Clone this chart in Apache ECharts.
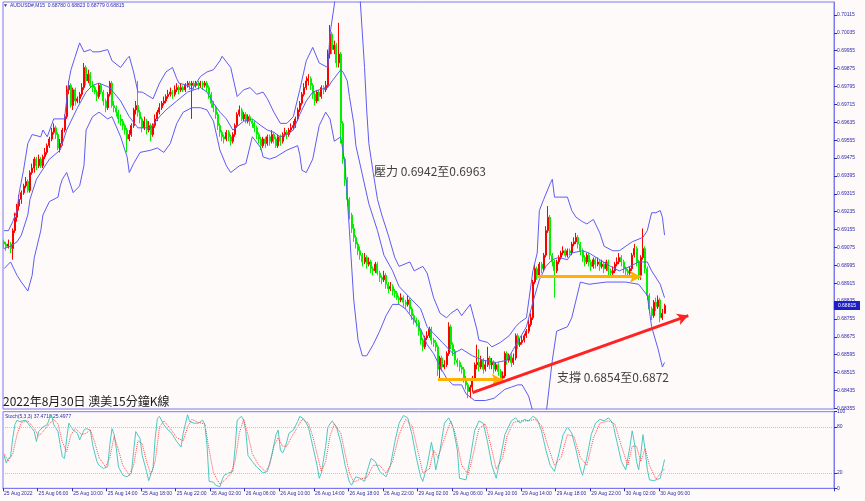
<!DOCTYPE html>
<html><head><meta charset="utf-8">
<script src="https://cdn.jsdelivr.net/npm/echarts@6/dist/echarts.min.js"></script>
<style>html,body{margin:0;padding:0;background:#fffafa}#c{width:865px;height:501px}</style>
</head><body><div id="c"></div><script>
// ---- data (AUDUSD M15, bar 0 = 25 Aug 2022 02:00) ----
const opens=[.6910,.6909,.6908,.6909,.6907,.6915,.6921,.6926,.6929,.6932,
.6935,.6937,.6933,.6941,.6943,.6947,.6944,.6947,.6944,.6948,
.6950,.6953,.6956,.6959,.6961,.6958,.6952,.6954,.6960,.6966,
.6978,.6980,.6971,.6978,.6973,.6974,.6976,.6979,.6988,.6982,
.6985,.6980,.6979,.6977,.6975,.6980,.6977,.6973,.6970,.6976,
.6981,.6971,.6970,.6968,.6965,.6964,.6962,.6960,.6956,.6958,
.6962,.6969,.6971,.6968,.6965,.6961,.6964,.6960,.6962,.6958,
.6962,.6965,.6968,.6970,.6972,.6973,.6975,.6976,.6977,.6976,
.6978,.6979,.6978,.6979,.6978,.6980,.6981,.6980,.6981,.6980,
.6981,.6980,.6981,.6980,.6981,.6979,.6976,.6972,.6970,.6967,
.6962,.6959,.6957,.6956,.6959,.6957,.6955,.6958,.6962,.6967,
.6969,.6965,.6967,.6964,.6966,.6964,.6963,.6961,.6958,.6956,
.6953,.6956,.6954,.6957,.6955,.6958,.6956,.6953,.6957,.6955,
.6958,.6959,.6958,.6960,.6961,.6962,.6965,.6969,.6972,.6976,
.6979,.6982,.6983,.6980,.6976,.6973,.6977,.6975,.6979,.6978,
.6980,.6994,.7003,.6996,.6998,.6990,.6994,.6963,.6947,.6938,
.6929,.6922,.6916,.6912,.6909,.6906,.6904,.6901,.6903,.6900,
.6901,.6898,.6897,.6900,.6896,.6894,.6893,.6895,.6891,.6889,
.6890,.6888,.6887,.6885,.6884,.6885,.6883,.6882,.6884,.6880,
.6877,.6875,.6874,.6870,.6866,.6863,.6867,.6868,.6871,.6866,
.6865,.6863,.6853,.6858,.6854,.6855,.6860,.6872,.6864,.6861,
.6857,.6856,.6854,.6853,.6849,.6846,.6843,.6845,.6849,.6855,
.6856,.6854,.6857,.6853,.6855,.6858,.6855,.6856,.6853,.6855,
.6852,.6849,.6850,.6860,.6857,.6859,.6856,.6858,.6868,.6864,
.6865,.6866,.6868,.6870,.6873,.6876,.6892,.6898,.6895,.6900,
.6898,.6904,.6915,.6921,.6904,.6901,.6897,.6901,.6903,.6905,
.6906,.6904,.6906,.6905,.6909,.6910,.6912,.6909,.6906,.6903,
.6901,.6904,.6901,.6899,.6902,.6900,.6901,.6899,.6900,.6898,
.6901,.6897,.6896,.6897,.6900,.6901,.6903,.6901,.6898,.6897,
.6896,.6898,.6904,.6907,.6901,.6895,.6903,.6907,.6898,.6886,
.6880,.6877,.6883,.6881,.6884,.6876,.68780];
const closes=[.6909,.6908,.6909,.6907,.6915,.6921,.6926,.6929,.6932,.6935,
.6937,.6933,.6941,.6943,.6947,.6944,.6947,.6944,.6948,.6950,
.6953,.6956,.6959,.6961,.6958,.6952,.6954,.6960,.6966,.6978,
.6980,.6971,.6978,.6973,.6974,.6976,.6979,.6988,.6982,.6985,
.6980,.6979,.6977,.6975,.6980,.6977,.6973,.6970,.6976,.6981,
.6971,.6970,.6968,.6965,.6964,.6962,.6960,.6956,.6958,.6962,
.6969,.6971,.6968,.6965,.6961,.6964,.6960,.6962,.6958,.6962,
.6965,.6968,.6970,.6972,.6973,.6975,.6976,.6977,.6976,.6978,
.6979,.6978,.6979,.6978,.6980,.6981,.6980,.6981,.6980,.6981,
.6980,.6981,.6980,.6981,.6979,.6976,.6972,.6970,.6967,.6962,
.6959,.6957,.6956,.6959,.6957,.6955,.6958,.6962,.6967,.6969,
.6965,.6967,.6964,.6966,.6964,.6963,.6961,.6958,.6956,.6953,
.6956,.6954,.6957,.6955,.6958,.6956,.6953,.6957,.6955,.6958,
.6959,.6958,.6960,.6961,.6962,.6965,.6969,.6972,.6976,.6979,
.6982,.6983,.6980,.6976,.6973,.6977,.6975,.6979,.6978,.6980,
.6994,.7003,.6996,.6998,.6990,.6994,.6963,.6947,.6938,.6929,
.6922,.6916,.6912,.6909,.6906,.6904,.6901,.6903,.6900,.6901,
.6898,.6897,.6900,.6896,.6894,.6893,.6895,.6891,.6889,.6890,
.6888,.6887,.6885,.6884,.6885,.6883,.6882,.6884,.6880,.6877,
.6875,.6874,.6870,.6866,.6863,.6867,.6868,.6871,.6866,.6865,
.6863,.6853,.6858,.6854,.6855,.6860,.6872,.6864,.6861,.6857,
.6856,.6854,.6853,.6849,.6846,.6843,.6845,.6849,.6855,.6856,
.6854,.6857,.6853,.6855,.6858,.6855,.6856,.6853,.6855,.6852,
.6849,.6850,.6860,.6857,.6859,.6856,.6858,.6868,.6864,.6865,
.6866,.6868,.6870,.6873,.6876,.6892,.6898,.6895,.6900,.6898,
.6904,.6915,.6921,.6904,.6901,.6897,.6901,.6903,.6905,.6906,
.6904,.6906,.6905,.6909,.6910,.6912,.6909,.6906,.6903,.6901,
.6904,.6901,.6899,.6902,.6900,.6901,.6899,.6900,.6898,.6901,
.6897,.6896,.6897,.6900,.6901,.6903,.6901,.6898,.6897,.6896,
.6898,.6904,.6907,.6901,.6895,.6903,.6907,.6898,.6886,.6880,
.6877,.6883,.6881,.6884,.6876,.6878,.68815];
const highs=[.6911,.6910,.6911,.6910,.6916,.6923,.6927,.6931,.6933,.6936,
.6939,.6938,.6942,.6945,.6948,.6948,.6949,.6948,.6949,.6952,
.6954,.6957,.6961,.6963,.6962,.6959,.6956,.6961,.6967,.6980,
.6982,.6981,.6979,.6979,.6975,.6977,.6981,.6990,.6989,.6987,
.6986,.6982,.6980,.6978,.6981,.6981,.6978,.6974,.6977,.6982,
.6982,.6973,.6971,.6969,.6967,.6965,.6963,.6961,.6960,.6963,
.6970,.6973,.6982,.6969,.6966,.6966,.6965,.6964,.6963,.6963,
.6967,.6969,.6972,.6973,.6975,.6976,.6978,.6979,.6978,.6980,
.6981,.6980,.6981,.6980,.6981,.6982,.6982,.6982,.6982,.6982,
.6982,.6982,.6982,.6982,.6982,.6980,.6977,.6973,.6971,.6968,
.6963,.6960,.6958,.6960,.6960,.6958,.6959,.6963,.6968,.6971,
.6970,.6968,.6968,.6967,.6967,.6965,.6964,.6962,.6959,.6957,
.6957,.6957,.6958,.6958,.6960,.6959,.6957,.6958,.6958,.6959,
.6961,.6960,.6961,.6963,.6964,.6966,.6970,.6973,.6977,.6981,
.6984,.6985,.6984,.6981,.6977,.6978,.6978,.6980,.6980,.6982,
.6996,.7007,.7004,.7000,.6999,.7008,.6995,.6964,.6948,.6939,
.6930,.6923,.6918,.6913,.6910,.6908,.6905,.6905,.6904,.6903,
.6902,.6899,.6901,.6901,.6897,.6895,.6897,.6896,.6892,.6892,
.6891,.6889,.6888,.6886,.6887,.6886,.6884,.6886,.6885,.6881,
.6878,.6876,.6875,.6871,.6867,.6868,.6870,.6872,.6872,.6867,
.6866,.6864,.6859,.6859,.6857,.6861,.6874,.6873,.6865,.6862,
.6858,.6857,.6855,.6854,.6850,.6847,.6846,.6850,.6856,.6864,
.6862,.6859,.6858,.6857,.6863,.6859,.6858,.6857,.6856,.6856,
.6853,.6852,.6861,.6861,.6860,.6860,.6860,.6869,.6869,.6867,
.6868,.6869,.6871,.6875,.6878,.6893,.6900,.6899,.6901,.6901,
.6905,.6917,.6926,.6922,.6905,.6902,.6902,.6904,.6906,.6908,
.6907,.6907,.6907,.6910,.6912,.6914,.6913,.6910,.6907,.6904,
.6905,.6905,.6902,.6903,.6903,.6903,.6902,.6902,.6901,.6902,
.6902,.6898,.6899,.6901,.6903,.6905,.6904,.6902,.6899,.6898,
.6899,.6905,.6909,.6908,.6902,.6904,.6916,.6908,.6899,.6887,
.6881,.6884,.6885,.6886,.6885,.6880,.68823];
const lows=[.6907,.6906,.6907,.6905,.6902,.6914,.6919,.6924,.6927,.6931,
.6934,.6932,.6932,.6940,.6941,.6942,.6943,.6943,.6943,.6947,
.6949,.6952,.6955,.6958,.6956,.6951,.6950,.6953,.6959,.6965,
.6976,.6970,.6969,.6971,.6972,.6972,.6975,.6978,.6980,.6981,
.6979,.6977,.6976,.6973,.6974,.6976,.6971,.6968,.6969,.6975,
.6970,.6968,.6966,.6963,.6962,.6960,.6958,.6950,.6955,.6957,
.6961,.6967,.6966,.6963,.6959,.6960,.6958,.6959,.6955,.6957,
.6961,.6964,.6967,.6969,.6971,.6972,.6974,.6975,.6974,.6975,
.6977,.6976,.6977,.6977,.6977,.6979,.6978,.6965,.6978,.6979,
.6978,.6979,.6978,.6979,.6977,.6974,.6970,.6968,.6965,.6960,
.6957,.6955,.6954,.6955,.6955,.6953,.6954,.6957,.6961,.6966,
.6964,.6964,.6963,.6963,.6962,.6961,.6959,.6956,.6954,.6951,
.6952,.6952,.6953,.6953,.6954,.6954,.6952,.6952,.6953,.6954,
.6957,.6956,.6957,.6959,.6960,.6961,.6964,.6968,.6971,.6975,
.6978,.6980,.6978,.6974,.6971,.6972,.6973,.6974,.6976,.6977,
.6979,.6992,.6994,.6994,.6988,.6988,.6954,.6945,.6935,.6926,
.6920,.6914,.6910,.6907,.6904,.6902,.6899,.6900,.6898,.6899,
.6896,.6895,.6896,.6895,.6892,.6891,.6892,.6889,.6887,.6888,
.6886,.6885,.6884,.6882,.6883,.6881,.6880,.6881,.6878,.6875,
.6873,.6872,.6868,.6864,.6861,.6862,.6866,.6867,.6864,.6863,
.6861,.6850,.6848,.6852,.6853,.6854,.6859,.6862,.6859,.6855,
.6854,.6852,.6851,.6847,.6844,.6840,.6840,.6843,.6848,.6853,
.6852,.6853,.6851,.6852,.6854,.6853,.6853,.6851,.6852,.6850,
.6847,.6847,.6849,.6855,.6856,.6854,.6855,.6857,.6862,.6863,
.6864,.6865,.6867,.6869,.6872,.6875,.6891,.6893,.6894,.6896,
.6897,.6903,.6914,.6902,.6899,.6885,.6896,.6900,.6902,.6904,
.6903,.6903,.6904,.6904,.6908,.6909,.6907,.6904,.6901,.6899,
.6900,.6899,.6897,.6898,.6898,.6899,.6897,.6898,.6896,.6897,
.6895,.6894,.6895,.6896,.6899,.6900,.6899,.6896,.6895,.6894,
.6895,.6897,.6903,.6899,.6893,.6893,.6902,.6896,.6884,.6878,
.6875,.6876,.6879,.6880,.6874,.6875,.68779];
// Bollinger bands: [bar, price]
const upperBand=[[0,.6915],[2,.6915],[4,.6919],[6,.6924],[7,.6932],[9,.6942],[11,.6954],[13,.6958],[17,.6957],[18,.6960],[20,.6957],[23,.6965],[26,.6965],[28,.6965],[30,.6982],[31,.6987],[33,.6993],[35,.6999],[37,.6995],[40,.6996],[41,.6995],[44,.6995],[48,.6996],[50,.6991],[54,.6988],[57,.6992],[58,.6993],[60,.6986],[62,.6977],[64,.6977],[69,.6974],[72,.6981],[75,.6986],[78,.6988],[80,.6983],[81,.6981],[85,.6980],[87,.6978],[91,.6984],[94,.6986],[97,.6987],[100,.6991],[101,.6993],[105,.6988],[108,.6975],[111,.6978],[114,.6979],[117,.6976],[120,.6977],[122,.6974],[125,.6968],[128,.6963],[131,.6963],[134,.6966],[137,.6978],[140,.6991],[143,.6997],[146,.6990],[150,.6988],[151,.7003],[153,.7016],[154,.7027],[164,.7027],[165,.7018],[166,.7003],[167,.6988],[168,.6969],[169,.6954],[171,.6941],[173,.6929],[175,.6922],[178,.6913],[181,.6903],[183,.6899],[188,.6901],[190,.6897],[194,.6899],[196,.6896],[199,.6885],[202,.6878],[205,.6876],[207,.6878],[210,.6880],[212,.6877],[216,.6882],[219,.6871],[220,.6866],[224,.6865],[226,.6863],[230,.6865],[234,.6868],[237,.6872],[239,.6874],[242,.6876],[245,.6897],[247,.6905],[248,.6924],[250,.6929],[253,.6936],[254,.6938],[255,.6930],[257,.6930],[261,.6930],[263,.6924],[265,.6921],[268,.6919],[270,.6918],[273,.6920],[276,.6914],[278,.6908],[282,.6906],[285,.6906],[291,.6910],[296,.6912],[298,.6915],[300,.6923],[302,.6923],[304,.6924],[305,.6921],[306,.6913]];
const middleBand=[[0,.6907],[3,.6908],[6,.6910],[8,.6913],[11,.6922],[12,.6929],[15,.6938],[21,.6947],[26,.6951],[29,.6960],[34,.6970],[38,.6977],[41,.6980],[44,.6981],[49,.6979],[54,.6973],[58,.6966],[62,.6961],[68,.6961],[72,.6966],[75,.6969],[80,.6973],[85,.6977],[91,.6979],[94,.6977],[97,.6972],[100,.6968],[103,.6965],[106,.6960],[111,.6964],[115,.6965],[119,.6962],[122,.6960],[125,.6959],[128,.6957],[131,.6958],[134,.6960],[137,.6967],[140,.6973],[143,.6977],[146,.6978],[150,.6979],[152,.6982],[156,.6987],[157,.6986],[159,.6982],[160,.6975],[162,.6963],[163,.6953],[166,.6940],[169,.6927],[173,.6915],[176,.6904],[180,.6897],[183,.6890],[188,.6885],[193,.6880],[196,.6872],[199,.6869],[203,.6865],[208,.6860],[212,.6862],[217,.6859],[222,.6857],[228,.6856],[233,.6857],[236,.6862],[239,.6867],[242,.6872],[245,.6883],[248,.6893],[251,.6899],[254,.6902],[257,.6903],[261,.6902],[263,.6905],[268,.6906],[271,.6905],[276,.6902],[281,.6899],[285,.6897],[290,.6899],[294,.6901],[298,.6901],[300,.6897],[304,.6891],[306,.6885]];
const lowerBand=[[0,.6898],[3,.6901],[6,.6895],[8,.6892],[11,.6888],[13,.6895],[14,.6903],[17,.6915],[18,.6922],[21,.6928],[25,.6930],[26,.6935],[27,.6938],[29,.6941],[31,.6935],[32,.6932],[35,.6935],[37,.6944],[38,.6960],[41,.6966],[44,.6968],[48,.6965],[50,.6966],[54,.6957],[57,.6948],[58,.6941],[60,.6945],[63,.6950],[68,.6951],[71,.6952],[74,.6950],[77,.6954],[80,.6963],[83,.6968],[87,.6970],[91,.6970],[94,.6969],[97,.6964],[100,.6951],[103,.6944],[105,.6941],[109,.6944],[112,.6945],[115,.6957],[119,.6952],[120,.6948],[123,.6947],[126,.6948],[131,.6951],[136,.6953],[137,.6949],[138,.6942],[140,.6941],[143,.6947],[146,.6962],[149,.6968],[151,.6965],[153,.6955],[156,.6957],[158,.6944],[160,.6915],[162,.6884],[164,.6866],[166,.6859],[168,.6859],[171,.6864],[174,.6870],[177,.6877],[180,.6882],[183,.6882],[186,.6880],[189,.6876],[193,.6871],[196,.6864],[199,.6860],[202,.6854],[205,.6849],[208,.6846],[212,.6846],[214,.6842],[218,.6839],[223,.6839],[227,.6840],[232,.6844],[235,.6845],[238,.6846],[240,.6846],[243,.6841],[245,.6834],[248,.6830],[251,.6832],[254,.6857],[256,.6870],[261,.6872],[263,.6876],[267,.6892],[271,.6891],[279,.6892],[288,.6892],[294,.6891],[298,.6886],[300,.6872],[303,.6862],[305,.6854],[306,.6856]];
// Stochastic(5,3,3): [bar, value]
const stochK=[[0,43],[1,33],[2,39],[3,41],[4,65],[5,83],[6,89],[7,87],[10,89],[11,85],[13,78],[14,74],[15,61],[16,74],[18,80],[20,83],[21,91],[22,96],[23,83],[25,74],[26,57],[27,41],[28,39],[29,65],[30,85],[32,76],[33,74],[34,72],[35,63],[37,76],[38,78],[40,76],[41,57],[43,35],[44,30],[46,26],[48,28],[49,57],[50,78],[51,70],[52,52],[53,28],[55,17],[57,15],[59,20],[60,48],[61,74],[63,65],[64,43],[66,22],[67,10],[69,26],[70,65],[71,91],[72,94],[74,83],[76,76],[77,74],[78,70],[80,61],[82,54],[83,72],[85,96],[86,87],[88,85],[90,85],[92,89],[93,83],[94,57],[95,9],[97,8],[98,4],[100,2],[101,11],[102,17],[104,20],[106,22],[107,52],[108,89],[110,94],[111,89],[112,74],[113,43],[115,35],[117,28],[120,20],[122,22],[124,43],[126,70],[127,76],[128,50],[129,46],[130,52],[131,61],[132,72],[134,76],[136,87],[137,94],[139,90],[141,80],[143,55],[145,30],[146,13],[147,20],[149,55],[150,80],[152,88],[154,80],[156,60],[158,30],[160,8],[161,4],[162,10],[163,15],[165,13],[167,9],[168,20],[170,39],[172,35],[174,22],[177,15],[179,30],[181,60],[183,85],[185,95],[187,92],[189,70],[191,40],[193,15],[194,9],[196,30],[198,60],[199,45],[200,24],[202,50],[204,85],[206,92],[208,80],[210,50],[211,13],[214,11],[216,40],[218,75],[220,88],[222,85],[224,60],[226,30],[228,13],[230,40],[232,70],[235,88],[237,92],[239,85],[241,90],[243,88],[245,94],[247,90],[249,75],[251,50],[253,30],[255,22],[257,45],[259,70],[261,80],[263,72],[265,50],[267,25],[268,17],[270,40],[272,70],[274,85],[276,90],[278,88],[280,92],[282,85],[284,60],[286,35],[288,24],[290,55],[291,75],[292,60],[293,35],[294,24],[295,45],[296,70],[297,50],[298,25],[299,11],[301,10],[303,12],[304,13],[306,37.47]];
const stochD=[[0,45],[2,36],[4,45],[6,70],[8,86],[11,88],[14,78],[16,68],[18,74],[21,84],[23,90],[25,84],[27,60],[29,48],[31,70],[33,78],[36,70],[38,72],[40,76],[42,60],[44,40],[47,28],[49,40],[51,68],[53,50],[55,30],[58,17],[60,30],[62,62],[64,58],[66,35],[68,18],[70,35],[72,80],[74,88],[77,78],[80,66],[83,62],[85,80],[87,90],[90,86],[93,84],[95,50],[97,20],[100,5],[102,10],[105,19],[107,35],[109,72],[111,90],[113,70],[115,45],[118,30],[121,22],[123,30],[125,55],[127,66],[129,55],[131,55],[133,66],[136,80],[138,90],[141,85],[143,68],[145,45],[147,22],[149,35],[151,68],[153,84],[156,72],[158,45],[160,20],[162,8],[165,12],[168,14],[171,30],[174,30],[177,20],[180,35],[183,70],[186,90],[189,82],[192,45],[194,20],[197,25],[199,50],[201,40],[204,65],[207,88],[209,72],[212,30],[215,18],[217,40],[220,78],[223,84],[226,50],[228,25],[231,40],[233,68],[236,86],[239,88],[243,88],[246,90],[249,82],[252,55],[255,30],[258,40],[261,70],[264,68],[267,40],[270,30],[273,65],[276,85],[280,88],[283,84],[286,55],[289,30],[291,55],[293,55],[295,35],[297,52],[299,30],[302,12],[306,25.50]];
const priceTicks=[0.68355,0.68435,0.68515,0.68595,0.68675,0.68755,0.68835,0.68915,0.68995,0.69075,0.69155,0.69235,0.69315,0.69395,0.69475,0.69555,0.69635,0.69715,0.69795,0.69875,0.69955,0.70035,0.70115];
const stochTicks=[0,20,80,100];
const tickBars=[0,16,32,48,64,80,96,112,128,144,160,176,192,208,224,240,256,272,288,304];
const tickLabels=['25 Aug 2022','25 Aug 06:00','25 Aug 10:00','25 Aug 14:00','25 Aug 18:00','25 Aug 22:00','26 Aug 02:00','26 Aug 06:00','26 Aug 10:00','26 Aug 14:00','26 Aug 18:00','26 Aug 22:00','29 Aug 02:00','29 Aug 06:00','29 Aug 10:00','29 Aug 14:00','29 Aug 18:00','29 Aug 22:00','30 Aug 02:00','30 Aug 06:00'];
// annotations: [startBar, startPrice, endBar, endPrice]
const resistArrow=[247,0.68944,295,0.68944];
const lowArrow=[201,0.68483,231,0.68483];
const trendArrow=[217,0.68425,317,0.68770];
const lastPrice=0.68815;

// ---- chart ----
const SLOTS=385;
const slots=Array.from({length:SLOTS},(_,i)=>String(i));
const candles=opens.map((o,i)=>[o,closes[i],lows[i],highs[i]]);
const tickSet=new Set(tickBars);
const tickText={};tickBars.forEach((b,k)=>tickText[b]=tickLabels[k]);
const NAVY='#2b2ba8',FRAME='#7a7af2',BAND='#5c5cf2';
const small={fontSize:5,fontFamily:'Liberation Sans',color:NAVY};
function arrow(a,color){return [{coord:[a[0],a[1]],lineStyle:{color:color,width:3,type:'solid'}},{coord:[a[2],a[3]]}];}
const chart=echarts.init(document.getElementById('c'));
chart.setOption({
  animation:false,
  backgroundColor:'#fffafa',
  grid:[
    {left:3,top:2,width:831,height:407,show:true,borderColor:FRAME,borderWidth:1},
    {left:3,top:411.7,width:831,height:76.6,show:true,borderColor:FRAME,borderWidth:1}
  ],
  xAxis:[
    {type:'category',gridIndex:0,data:slots,boundaryGap:true,axisLine:{show:false},axisTick:{show:false},axisLabel:{show:false},splitLine:{show:false}},
    {type:'category',gridIndex:1,data:slots,boundaryGap:true,axisLine:{show:true,lineStyle:{color:FRAME}},
     axisTick:{show:true,interval:(i)=>tickSet.has(i),length:3,lineStyle:{color:NAVY}},
     axisLabel:Object.assign({show:true,interval:(i)=>tickSet.has(i),formatter:(v,i)=>tickText[i]||'',align:'left',margin:3},small),
     splitLine:{show:false}}
  ],
  yAxis:[
    {type:'value',gridIndex:0,position:'right',min:0.68352,max:0.70173,
     axisLine:{show:true,lineStyle:{color:FRAME}},
     axisTick:{show:true,length:3,customValues:priceTicks,lineStyle:{color:NAVY}},
     axisLabel:Object.assign({customValues:priceTicks,formatter:v=>v.toFixed(5),margin:3},small),
     splitLine:{show:false}},
    {type:'value',gridIndex:1,position:'right',min:0,max:100,
     axisLine:{show:true,lineStyle:{color:FRAME}},
     axisTick:{show:true,length:3,customValues:stochTicks,lineStyle:{color:NAVY}},
     axisLabel:Object.assign({customValues:stochTicks,margin:3},small),
     splitLine:{show:false}}
  ],
  series:[
    {type:'candlestick',xAxisIndex:0,yAxisIndex:0,data:candles,barWidth:1.5,
     itemStyle:{color:'#ff0000',color0:'#00f000',borderColor:'#ff0000',borderColor0:'#00f000',borderWidth:1}},
    {type:'line',xAxisIndex:0,yAxisIndex:0,data:upperBand,symbol:'none',lineStyle:{color:BAND,width:1},
     markLine:{silent:true,animation:false,symbol:['none','arrow'],symbolSize:[9,11],label:{show:false},
       data:[arrow(lowArrow,'#ffb000'),arrow(resistArrow,'#ffb000'),arrow(trendArrow,'#ff2222')]}},
    {type:'line',xAxisIndex:0,yAxisIndex:0,data:middleBand,symbol:'none',lineStyle:{color:BAND,width:1},
     markLine:{silent:true,animation:false,symbol:'none',
       lineStyle:{color:'rgba(0,0,0,0)',width:1,type:'solid'},
       label:{show:true,position:'end',distance:1,formatter:'0.68815',color:'#ffffff',backgroundColor:'#1e1ec8',fontSize:5,fontFamily:'Liberation Sans',padding:[2,4]},
       data:[[{coord:[SLOTS-2,lastPrice]},{coord:[SLOTS-1,lastPrice]}]]}},
    {type:'line',xAxisIndex:0,yAxisIndex:0,data:lowerBand,symbol:'none',lineStyle:{color:BAND,width:1}},
    {type:'line',xAxisIndex:1,yAxisIndex:1,data:stochK,symbol:'none',lineStyle:{color:'#4cc8c0',width:1},
     markLine:{silent:true,symbol:'none',label:{show:false},lineStyle:{color:'#c4c4c4',type:'dotted',width:1},data:[{yAxis:80},{yAxis:20}]}},
    {type:'line',xAxisIndex:1,yAxisIndex:1,data:stochD,symbol:'none',lineStyle:{color:'#ff4a4a',width:1,type:'dotted'}}
  ],
  graphic:[
    {type:'text',left:3,top:3.5,style:{text:'▼',fontSize:5,fill:NAVY}},
    {type:'text',left:10,top:3.5,style:{text:'AUDUSD#,M15  0.68780 0.68823 0.68779 0.68815',fontSize:5,fontFamily:'Liberation Sans',fill:NAVY}},
    {type:'text',left:374,top:165,style:{text:'壓力 0.6942至0.6963',fontSize:12,fontFamily:'Noto Sans CJK TC',fill:'#404040'}},
    {type:'text',left:557,top:371,style:{text:'支撐 0.6854至0.6872',fontSize:12,fontFamily:'Noto Sans CJK TC',fill:'#404040'}},
    {type:'text',left:3,top:395,style:{text:'2022年8月30日 澳美15分鐘K線',fontSize:12,fontFamily:'Noto Sans CJK TC',fill:'#1a1a1a'}},
    {type:'text',left:5,top:414,style:{text:'Stoch(5,3,3) 37.4718 25.4977',fontSize:5,fontFamily:'Liberation Sans',fill:NAVY}}
  ]
});
</script></body></html>
